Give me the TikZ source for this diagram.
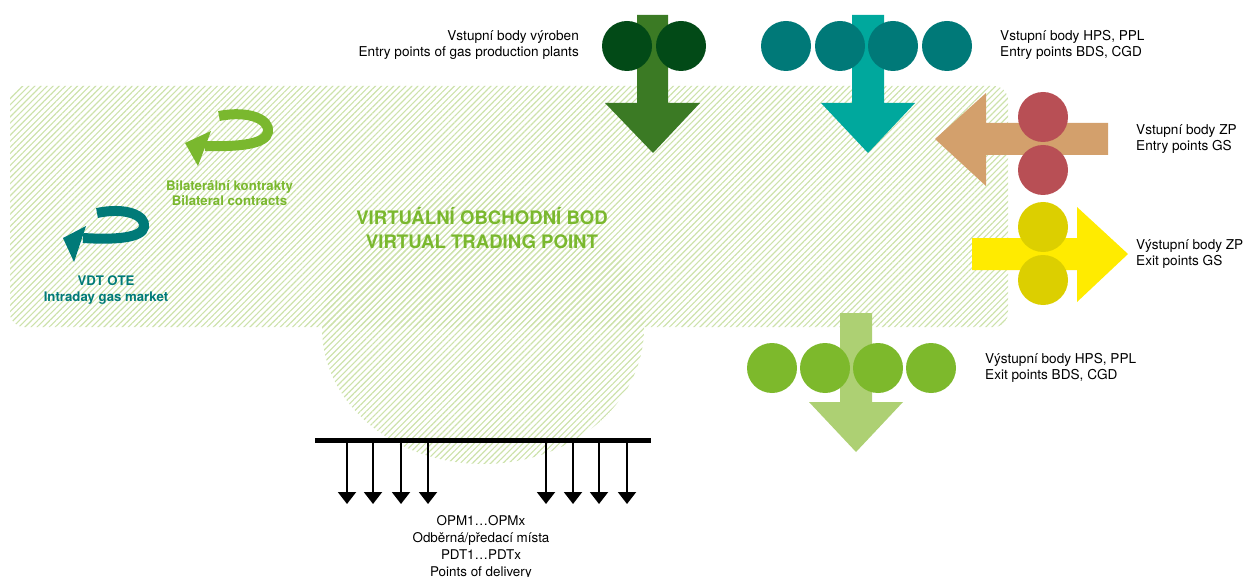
\documentclass[tikz,border=0pt]{standalone}
\usepackage{fontspec}
\setmainfont{TeX Gyre Heros}
\usetikzlibrary{patterns.meta,arrows.meta}
\definecolor{hatch}{HTML}{CDE2AB}
\definecolor{prodarrow}{HTML}{3B7A24}
\definecolor{prodcirc}{HTML}{024A17}
\definecolor{tealarrow}{HTML}{00A89D}
\definecolor{tealcirc}{HTML}{007978}
\definecolor{tanarrow}{HTML}{D3A06C}
\definecolor{redcirc}{HTML}{B84F55}
\definecolor{yelarrow}{HTML}{FFEB00}
\definecolor{olivecirc}{HTML}{DCCF00}
\definecolor{lgarrow}{HTML}{ADD073}
\definecolor{grcirc}{HTML}{7DB92C}
\definecolor{grtext}{HTML}{7AB82E}
\definecolor{tealtext}{HTML}{007A78}
\tikzset{
  hatched/.style={pattern={Lines[angle=45,distance=4.3pt,line width=1.15pt]},pattern color=hatch},
  lbl/.style={inner sep=0pt,font=\fontsize{13.6}{16.5}\selectfont},
  boldlbl/.style={inner sep=0pt,font=\bfseries\fontsize{13.2}{15.5}\selectfont,align=center},
  dot/.style={circle,minimum size=50pt,inner sep=0pt},
  pdarrow/.style={line width=2pt,-{Triangle[length=12pt,width=18pt]}},
}
\begin{document}
\begin{tikzpicture}[x=1pt,y=-1pt]
\useasboundingbox (0,0) rectangle (1246,577);
% hatched virtual trading area
\fill[hatched,rounded corners=14pt] (10,86) rectangle (1008,327);
\fill[hatched] (483,328) ellipse [x radius=161, y radius=136];

% production entry
\fill[prodarrow] (637,15)--(668,15)--(668,103)--(700,103)--(653,153)--(605,103)--(637,103)--cycle;
\node[dot,fill=prodcirc] (p1) at (627,46) {};
\node[dot,fill=prodcirc] (p2) at (681,46) {};
\node[lbl,align=right,anchor=east] (ptext) at (579,45) {Vstupní body výroben\\Entry points of gas production plants};

% HPS entry
\fill[tealarrow] (852,15)--(884,15)--(884,103)--(915,103)--(868,153)--(821,103)--(852,103)--cycle;
\foreach \x [count=\i] in {786,840,893,947}{\node[dot,fill=tealcirc] (h\i) at (\x,46) {};}
\node[lbl,align=left,anchor=west] (htext) at (1000,45) {Vstupní body HPS, PPL\\Entry points BDS, CGD};

% GS entry
\fill[tanarrow] (1108,123)--(1108,155)--(986,155)--(986,186)--(935,139)--(986,93)--(986,123)--cycle;
\node[dot,fill=redcirc] (z1) at (1043,117) {};
\node[dot,fill=redcirc] (z2) at (1043,170) {};
\node[lbl,align=left,anchor=west] (ztext) at (1136,139) {Vstupní body ZP\\Entry points GS};

% GS exit
\fill[yelarrow] (972,238)--(1077,238)--(1077,207)--(1128,254)--(1077,302)--(1077,270)--(972,270)--cycle;
\node[dot,fill=olivecirc] (y1) at (1043,227) {};
\node[dot,fill=olivecirc] (y2) at (1043,280) {};
\node[lbl,align=left,anchor=west] (ytext) at (1136,254) {Výstupní body ZP\\Exit points GS};

% HPS exit
\fill[lgarrow] (840,313)--(872,313)--(872,402)--(903,402)--(856,452)--(809,402)--(840,402)--cycle;
\foreach \x [count=\i] in {772,825,878,931}{\node[dot,fill=grcirc] (x\i) at (\x,368) {};}
\node[lbl,align=left,anchor=west] (xtext) at (985,368) {Výstupní body HPS, PPL\\Exit points BDS, CGD};

% virtual trading point
\node[inner sep=0pt,font=\bfseries\fontsize{18.6}{24}\selectfont,align=center,text=grtext] (vtp) at (482,228) {VIRTUÁLNÍ OBCHODNÍ BOD\\VIRTUAL TRADING POINT};

% bilateral contracts
\draw[line width=10pt,grtext] (219,116) .. controls (250,110) and (270,120) .. (268,132) .. controls (266,144) and (240,147) .. (205,146);
\fill[grtext] (185,143) -- (211,131) -- (198,166) -- cycle;
\node[boldlbl,text=grtext] (btext) at (229.5,193) {Bilaterální kontrakty\\Bilateral contracts};

% intraday market
\draw[line width=10pt,tealtext] (97,213) .. controls (125,207) and (146,215) .. (144,227) .. controls (142,238) and (115,240) .. (83,238);
\fill[tealtext] (63,238) -- (86,226) -- (74,262) -- cycle;
\node[boldlbl,text=tealtext] (vdt) at (106,290) {VDT OTE\\Intraday gas market};

% points of delivery
\coordinate (barL) at (315,440);
\coordinate (barR) at (651,440);
\draw[line width=5pt] (barL) -- (barR);
\foreach \x [count=\i] in {347,373,401,428,546,573,599,627}{
  \coordinate (s\i) at (\x,440);
  \coordinate (e\i) at (\x,504);
  \draw[pdarrow] (s\i) -- (e\i);
}
\node[lbl,align=center,font=\fontsize{13.4}{17}\selectfont] (pod) at (481,547) {OPM1…OPMx\\Odběrná/předací místa\\PDT1…PDTx\\Points of delivery};
\end{tikzpicture}
\end{document}
